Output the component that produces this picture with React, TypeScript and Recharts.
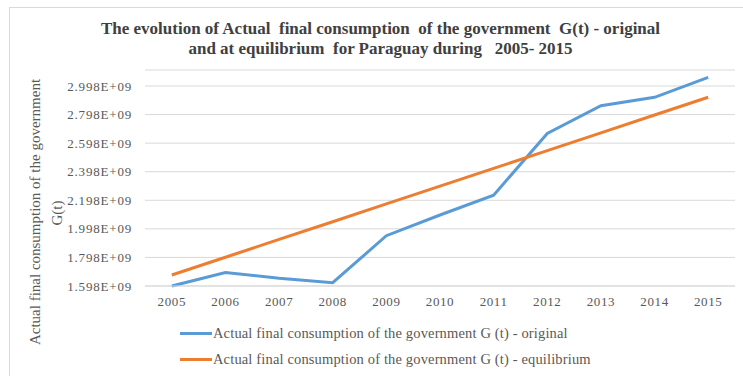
import React from "react";
import { LineChart, Line, XAxis, YAxis, CartesianGrid } from "recharts";

const years = ["2005", "2006", "2007", "2008", "2009", "2010", "2011", "2012", "2013", "2014", "2015"];
const original = [1.598e9, 1.692e9, 1.652e9, 1.621e9, 1.95e9, 2.095e9, 2.234e9, 2.666e9, 2.86e9, 2.919e9, 3.059e9];
const equilibrium = [1.675e9, 1.799e9, 1.924e9, 2.048e9, 2.173e9, 2.297e9, 2.421e9, 2.546e9, 2.67e9, 2.795e9, 2.919e9];
const yTicks = [1.598e9, 1.798e9, 1.998e9, 2.198e9, 2.398e9, 2.598e9, 2.798e9, 2.998e9];

const data = years.map((year, i) => ({
  year,
  original: original[i],
  equilibrium: equilibrium[i],
}));

const BLUE = "#5b9bd5";
const ORANGE = "#ed7d31";
const TEXT = "#595959";
const SERIF = "'Liberation Serif', 'Times New Roman', serif";

const seriesNames: Record<string, string> = {
  original: "Actual final consumption of the government G (t) - original",
  equilibrium: "Actual final consumption of the government G (t) - equilibrium",
};

// legend sits under the plot, drawn by hand like the Excel one
function LegendBox() {
  const items = [
    { key: "original", color: BLUE },
    { key: "equilibrium", color: ORANGE },
  ];
  return (
    <div style={{ position: "absolute", left: 180, top: 320 }}>
      {items.map((it) => (
        <div key={it.key} style={{ display: "flex", alignItems: "center", height: 26 }}>
          <span style={{ display: "inline-block", width: 32, height: 3, background: it.color, marginRight: 1 }} />
          <span style={{ fontFamily: SERIF, fontSize: 14.5, letterSpacing: 0.15, color: TEXT, whiteSpace: "pre" }}>
            {seriesNames[it.key]}
          </span>
        </div>
      ))}
    </div>
  );
}

function AxisTitle() {
  return (
    <g>
      <text
        transform="translate(40, 212) rotate(-90)"
        textAnchor="middle"
        fontFamily={SERIF}
        fontSize={15}
        fill={TEXT}
      >
        Actual final consumption of the government
      </text>
      <text
        transform="translate(62, 213) rotate(-90)"
        textAnchor="middle"
        fontFamily={SERIF}
        fontSize={15}
        fill={TEXT}
      >
        G(t)
      </text>
    </g>
  );
}

export default function App() {
  return (
    <div
      style={{
        position: "fixed",
        left: 0,
        top: 0,
        width: 743,
        height: 376,
        background: "#fff",
        overflow: "hidden",
      }}
    >
      <div
        style={{
          position: "absolute",
          left: 9,
          top: 7,
          width: 760,
          height: 400,
          border: "1px solid #d9d9d9",
        }}
      />
      <div
        style={{
          position: "absolute",
          left: 0,
          width: 761,
          top: 19,
          textAlign: "center",
          fontFamily: SERIF,
          fontWeight: "bold",
          fontSize: 17,
          lineHeight: "20px",
          color: "#404040",
          whiteSpace: "pre",
        }}
      >
        {"The evolution of Actual  final consumption  of the government  G(t) - original\nand at equilibrium  for Paraguay during   2005- 2015"}
      </div>
      <div style={{ position: "absolute", left: 0, top: 0 }}>
        <LineChart width={743} height={376} data={data} margin={{ top: 70, right: 8, bottom: 60, left: 0 }}>
          <CartesianGrid vertical={false} stroke="#d9d9d9" />
          <XAxis
            dataKey="year"
            axisLine={{ stroke: "#d9d9d9" }}
            tickLine={false}
            tickSize={0}
            tickMargin={11}
            height={30}
            padding={{ left: 26.8, right: 26.8 }}
            tick={{ fill: TEXT, fontFamily: SERIF, fontSize: 13, letterSpacing: 0.6 }}
            interval={0}
          />
          <YAxis
            width={145}
            domain={[1.598e9, 3.11e9]}
            ticks={yTicks}
            interval={0}
            axisLine={false}
            tickLine={false}
            tickSize={0}
            tickMargin={13}
            tickFormatter={(v: number) => (v / 1e9).toFixed(3) + "E+09"}
            tick={{ fill: TEXT, fontFamily: SERIF, fontSize: 13, letterSpacing: 0.8 }}
            label={{ content: () => <AxisTitle /> }}
          />
          <Line
            type="linear"
            dataKey="original"
            name={seriesNames.original}
            stroke={BLUE}
            strokeWidth={3}
            dot={false}
            isAnimationActive={false}
          />
          <Line
            type="linear"
            dataKey="equilibrium"
            name={seriesNames.equilibrium}
            stroke={ORANGE}
            strokeWidth={3}
            dot={false}
            isAnimationActive={false}
          />
        </LineChart>
      </div>
      <LegendBox />
    </div>
  );
}
